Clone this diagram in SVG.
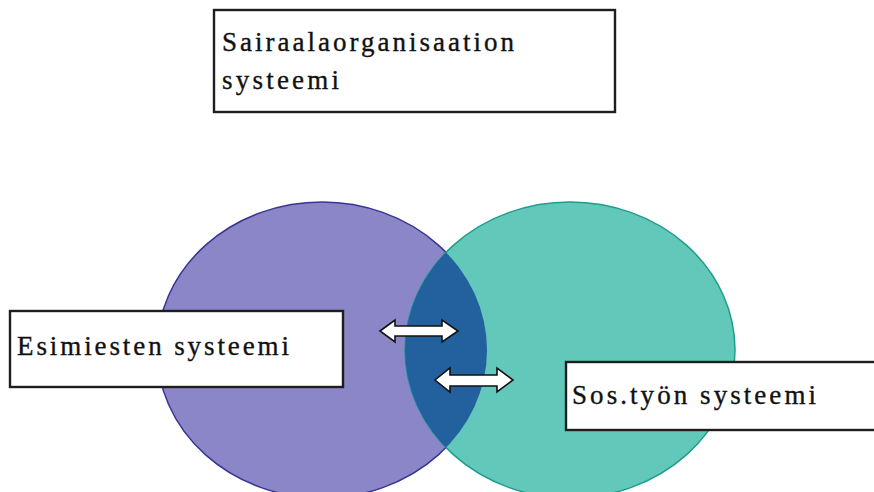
<svg xmlns="http://www.w3.org/2000/svg" width="874" height="492" viewBox="0 0 874 492">
<style>
.box{fill:#ffffff;stroke:#1e1e1e;stroke-width:2.4}
.lbl{font-family:"Liberation Serif","Times New Roman",serif;font-size:27px;fill:#111111;stroke:#111111;stroke-width:0.35}
.arr{fill:#ffffff;stroke:#111111;stroke-width:1.6;stroke-linejoin:miter}
</style>
<defs>
<clipPath id="leftClip"><ellipse cx="322" cy="350" rx="165" ry="148"/></clipPath>
</defs>
<rect width="874" height="492" fill="#ffffff"/>
<g id="circle-esimiesten">
<ellipse cx="322" cy="350" rx="165" ry="148" fill="#8a86c8" stroke="#3a3494" stroke-width="1.5"/>
</g>
<g id="circle-sostyo">
<ellipse cx="570" cy="350" rx="165" ry="148" fill="#62c8ba" stroke="#1f9c8c" stroke-width="1.5"/>
</g>
<g id="overlap">
<ellipse cx="570" cy="350" rx="165" ry="148" fill="#22609e" clip-path="url(#leftClip)"/>
</g>
<g id="node-sairaala">
<rect class="box" x="214" y="10" width="401" height="102"/>
<text class="lbl" x="222" y="51" textLength="292" lengthAdjust="spacing">Sairaalaorganisaation</text>
<text class="lbl" x="222" y="89" textLength="117" lengthAdjust="spacing">systeemi</text>
</g>
<g id="node-esimiesten">
<rect class="box" x="10" y="311" width="333" height="76"/>
<text class="lbl" x="17" y="355" textLength="272" lengthAdjust="spacing">Esimiesten systeemi</text>
</g>
<g id="node-sostyo">
<rect class="box" x="566" y="362" width="320" height="68"/>
<text class="lbl" x="572" y="404" textLength="244" lengthAdjust="spacing">Sos.työn systeemi</text>
</g>
<g id="connectors">
<path class="arr" d="M380,331 L395,320 L395,326 L442,326 L442,320 L458,331 L442,342 L442,336 L395,336 L395,342 Z"/>
<path class="arr" d="M435,380 L450,368 L450,375 L497,375 L497,368 L513,380 L497,392 L497,386 L450,386 L450,392 Z"/>
</g>
</svg>
